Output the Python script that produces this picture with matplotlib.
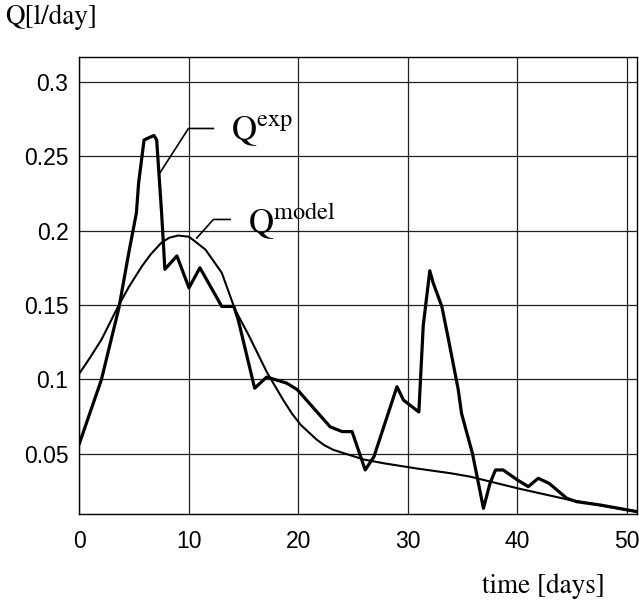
import matplotlib
matplotlib.use('Agg')
import matplotlib.pyplot as plt

plt.rcParams['mathtext.fontset'] = 'stix'

t_exp = [0.0, 2.0, 3.6, 4.5, 5.2, 5.4, 5.9, 6.8, 7.05, 7.5, 7.8, 8.9, 10.0, 11.0,
         13.0, 14.1, 14.5, 16.0, 17.1, 18.9, 19.9, 22.9, 24.0, 24.9, 26.1, 26.9,
         29.0, 29.6, 31.0, 31.4, 32.0, 32.3, 33.1, 33.7, 34.6, 34.9, 35.9, 36.9,
         37.5, 38.0, 38.7, 40.0, 41.0, 41.9, 42.9, 44.5, 45.4, 47.6, 50.9]
q_exp = [0.057, 0.0997, 0.148, 0.185, 0.212, 0.232, 0.261, 0.264, 0.261, 0.212,
         0.174, 0.183, 0.1615, 0.175, 0.149, 0.149, 0.140, 0.094, 0.1015, 0.0975,
         0.093, 0.068, 0.0648, 0.0648, 0.039, 0.048, 0.095, 0.086, 0.078, 0.136,
         0.173, 0.165, 0.149, 0.127, 0.093, 0.077, 0.050, 0.0132, 0.030, 0.039,
         0.039, 0.0323, 0.0278, 0.0334, 0.030, 0.020, 0.0177, 0.0154, 0.011]

# model curve
t_model = [0.0, 1.0, 2.0, 3.6, 4.5, 5.7, 6.5, 7.5, 8.2, 9.0, 10.0, 11.5, 12.2,
           13.0, 14.2, 15.5, 16.3, 17.1, 18.6, 19.4, 20.2, 21.7, 22.4, 23.2,
           24.7, 26.0, 27.8, 30.8, 33.9, 35.7, 40.0, 44.8, 50.9]
q_model = [0.104, 0.115, 0.1266, 0.150, 0.162, 0.176, 0.184, 0.192, 0.1952,
           0.1967, 0.1959, 0.1873, 0.180, 0.1716, 0.147, 0.129, 0.117, 0.105,
           0.0862, 0.077, 0.0694, 0.0592, 0.0555, 0.0525, 0.049, 0.046, 0.0435,
           0.040, 0.0368, 0.0345, 0.0267, 0.0188, 0.011]

xticks = [0, 10, 20, 30, 40, 50]
yticks = [0.05, 0.1, 0.15, 0.2, 0.25, 0.3]
ytick_labels = ['0.05', '0.1', '0.15', '0.2', '0.25', '0.3']

# leader lines for the curve labels (annotation anchors)
exp_leader = ([7.36, 9.95, 12.23], [0.239, 0.2687, 0.2687])
model_leader = ([10.71, 12.23, 13.76], [0.195, 0.2075, 0.2075])

fig = plt.figure(figsize=(6.39, 6.01), dpi=100)
ax = fig.add_axes([0.1244, 0.1443, 0.872, 0.7604])

ax.plot(t_model, q_model, color='black', lw=1.5)
ax.plot(t_exp, q_exp, color='black', lw=2.3)

ax.plot(exp_leader[0], exp_leader[1], color='black', lw=1.2)
ax.plot(model_leader[0], model_leader[1], color='black', lw=1.2)
ax.text(13.8, 0.2675, r'Q$^{\mathrm{exp}}$', fontsize=25, family='STIXGeneral',
        va='center', ha='left')
ax.text(15.4, 0.2065, r'Q$^{\mathrm{model}}$', fontsize=25, family='STIXGeneral',
        va='center', ha='left')

ax.set_xlim(0, 50.9)
ax.set_ylim(0.0092, 0.3166)
ax.set_xticks(xticks)
ax.set_yticks(yticks)
ax.set_yticklabels(ytick_labels)
ax.tick_params(length=0, labelsize=16.5, colors='black')
ax.tick_params(axis='x', pad=11)
ax.tick_params(axis='y', pad=8)
for lab in ax.get_xticklabels() + ax.get_yticklabels():
    lab.set_family('Liberation Sans')
ax.grid(True, color='#222222', lw=0.9)
for sp in ax.spines.values():
    sp.set_linewidth(1.0)

fig.text(5 / 639, 1 - 4 / 601, 'Q[l/day]', fontsize=19.5, family='STIXGeneral',
         va='top', ha='left')
fig.text(482 / 639, 1 - 593 / 601, 'time [days]', fontsize=19.5,
         family='STIXGeneral', va='baseline', ha='left')

fig.savefig('out.png', dpi=100)
